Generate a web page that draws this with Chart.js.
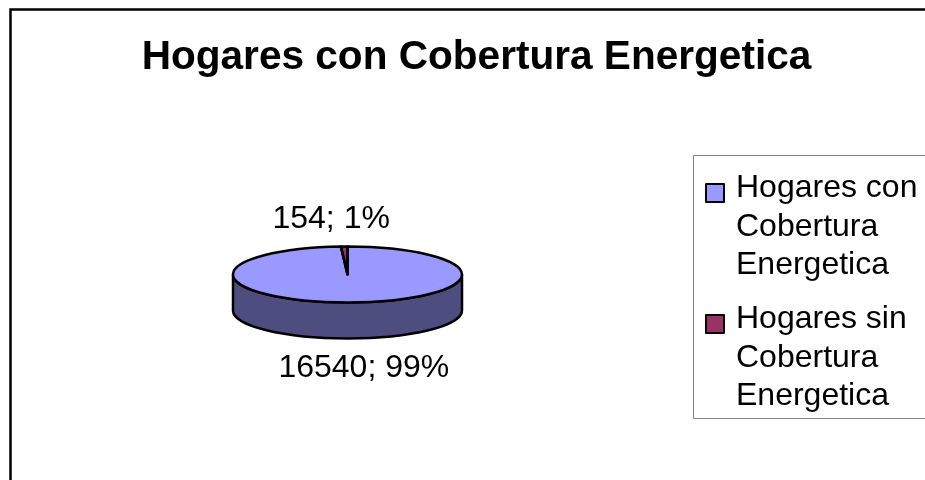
<!DOCTYPE html>
<html>
<head>
<meta charset="utf-8">
<script src="https://cdn.jsdelivr.net/npm/chart.js@4"></script>
<style>
  html, body { margin: 0; padding: 0; background: #ffffff; }
  canvas { display: block; }
</style>
</head>
<body>
<canvas id="c" width="925" height="480"></canvas>
<script>
// ---- data ----
const chartTitle = 'Hogares con Cobertura Energetica';
const categories = ['Hogares con Cobertura Energetica', 'Hogares sin Cobertura Energetica'];
const values = [16540, 154];

// ---- styles ----
const topColors = ['#9999FF', '#993366'];
const sideColors = ['#4D4D80', '#4D1A33'];
const FONT = 'Arial, "Liberation Sans", sans-serif';
const ELLIPSE_RY = 28;   // vertical radius of the tilted top face
const DEPTH = 36;        // thickness of the pie

function wrapWords(ctx, text, maxW) {
  const words = text.split(' ');
  const lines = [];
  let cur = '';
  for (const w of words) {
    const t = cur ? cur + ' ' + w : w;
    if (cur && ctx.measureText(t).width > maxW) { lines.push(cur); cur = w; }
    else cur = t;
  }
  if (cur) lines.push(cur);
  return lines;
}

function ellPt(cx, cy, rx, ry, a) {
  return [cx + rx * Math.cos(a), cy + ry * Math.sin(a)];
}

// intersect [s,e] with visible front ranges [0,PI] + 2kPI
function frontRanges(s, e) {
  const out = [];
  for (let k = -2; k <= 2; k++) {
    const lo = Math.max(s, 2 * Math.PI * k);
    const hi = Math.min(e, 2 * Math.PI * k + Math.PI);
    if (hi > lo) out.push([lo, hi]);
  }
  return out;
}

const pie3d = {
  id: 'pie3d',
  beforeDraw(chart) {
    const ctx = chart.ctx;
    ctx.save();
    ctx.fillStyle = '#ffffff';
    ctx.fillRect(0, 0, chart.width, chart.height);
    // outer frame (continues past the right and bottom edges)
    ctx.strokeStyle = '#000000';
    ctx.lineWidth = 2.5;
    ctx.strokeRect(10.5, 9.5, chart.width + 20, chart.height + 20);
    // title
    ctx.fillStyle = '#000000';
    ctx.font = 'bold 40.6px ' + FONT;
    ctx.textAlign = 'center';
    ctx.textBaseline = 'alphabetic';
    ctx.fillText(chartTitle, 476.5, 69);
    ctx.restore();
  },
  beforeDatasetsDraw(chart) {
    const ctx = chart.ctx;
    const arcs = chart.getDatasetMeta(0).data;
    const a0 = arcs[0];
    const cx = a0.x, cy = a0.y, rx = a0.outerRadius, ry = ELLIPSE_RY;
    // side walls
    ctx.save();
    arcs.forEach((arc, i) => {
      frontRanges(arc.startAngle, arc.endAngle).forEach(([lo, hi]) => {
        ctx.beginPath();
        ctx.ellipse(cx, cy, rx, ry, 0, lo, hi, false);
        const p = ellPt(cx, cy + DEPTH, rx, ry, hi);
        ctx.lineTo(p[0], p[1]);
        ctx.ellipse(cx, cy + DEPTH, rx, ry, 0, hi, lo, true);
        ctx.closePath();
        ctx.fillStyle = sideColors[i];
        ctx.fill();
        ctx.strokeStyle = '#000000';
        ctx.lineWidth = 2.5;
        ctx.lineJoin = 'round';
        ctx.stroke();
      });
    });
    ctx.restore();
    // squash the top face drawn by Chart.js
    ctx.save();
    ctx.translate(cx, cy);
    ctx.scale(1, ry / rx);
    ctx.translate(-cx, -cy);
  },
  afterDatasetsDraw(chart) {
    const ctx = chart.ctx;
    ctx.restore();
    const arcs = chart.getDatasetMeta(0).data;
    const a0 = arcs[0];
    const cx = a0.x, cy = a0.y, rx = a0.outerRadius, ry = ELLIPSE_RY;
    const total = values.reduce((s, v) => s + v, 0);
    ctx.save();
    // outlines of the top face
    ctx.strokeStyle = '#000000';
    ctx.lineWidth = 2.5;
    ctx.lineJoin = 'round';
    arcs.forEach((arc) => {
      ctx.beginPath();
      ctx.moveTo(cx, cy);
      ctx.ellipse(cx, cy, rx, ry, 0, arc.startAngle, arc.endAngle, false);
      ctx.closePath();
      ctx.stroke();
    });
    // data labels
    ctx.fillStyle = '#000000';
    ctx.font = '32px ' + FONT;
    ctx.textAlign = 'center';
    ctx.textBaseline = 'alphabetic';
    arcs.forEach((arc, i) => {
      const m = (arc.startAngle + arc.endAngle) / 2;
      const p = ellPt(cx, cy, rx, ry, m);
      const s = Math.sin(m) >= 0 ? 1 : -1;
      const c = Math.cos(m) >= 0 ? 1 : -1;
      const x = p[0] + c * 13;
      const y = s > 0 ? p[1] + DEPTH + 39 : p[1] - 19;
      const pct = Math.round(values[i] / total * 100);
      ctx.fillText(values[i] + '; ' + pct + '%', x, y);
    });
    // legend
    ctx.lineWidth = 1;
    ctx.strokeStyle = '#808080';
    ctx.strokeRect(693.5, 155.5, 260, 263);
    ctx.font = '32px ' + FONT;
    ctx.textAlign = 'left';
    let base = 197;
    categories.forEach((cat, i) => {
      const lines = wrapWords(ctx, cat, 187);
      ctx.fillStyle = topColors[i];
      ctx.fillRect(706, base - 13, 18, 18);
      ctx.strokeStyle = '#000000';
      ctx.lineWidth = 2;
      ctx.strokeRect(706, base - 13, 18, 18);
      ctx.fillStyle = '#000000';
      lines.forEach((ln, j) => {
        ctx.fillText(ln, 736, base + j * 38.5);
      });
      base += (lines.length - 1) * 38.5 + 54;
    });
    ctx.restore();
  }
};

new Chart(document.getElementById('c'), {
  type: 'pie',
  data: {
    labels: categories,
    datasets: [{
      data: values,
      backgroundColor: topColors,
      borderWidth: 0
    }]
  },
  options: {
    responsive: false,
    animation: false,
    events: [],
    layout: { padding: { left: 233, right: 463, top: 160, bottom: 91 } },
    plugins: {
      legend: { display: false },
      tooltip: { enabled: false },
      title: { display: false }
    }
  },
  plugins: [pie3d]
});
</script>
</body>
</html>
